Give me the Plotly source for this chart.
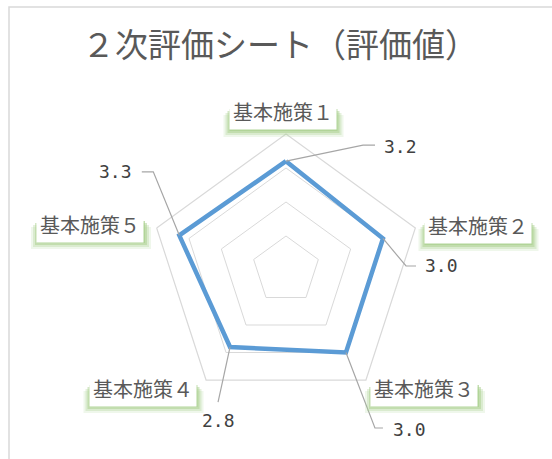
import math
import plotly.graph_objects as go

# ---------------- data ----------------
categories = ["基本施策１", "基本施策２", "基本施策３", "基本施策４", "基本施策５"]
values = [3.2, 3.0, 3.0, 2.8, 3.3]
radial_range = [0, 4]
radial_dtick = 1
title_text = "２次評価シート（評価値）"

# ---------------- geometry / style ----------------
W, H = 552, 459
CX, CY, R = 286, 270, 136          # polar centre and outer radius in px
N = len(categories)

def X(x):
    return x / W

def Y(y):
    return 1 - y / H

def point_px(i, v):
    ang = math.radians(90 - 360.0 / N * i)
    rr = (v - radial_range[0]) / (radial_range[1] - radial_range[0]) * R
    return CX + rr * math.cos(ang), CY - rr * math.sin(ang)

# leader-line elbows and label offsets relative to each data point (px)
leader_offsets = [
    [(77, -16), (89, -16)],
    [(23, 27.5), (33, 27.5)],
    [(29, 75.5), (37, 75.5)],
    [(-12, 55)],
    [(-26, -63.5), (-37.5, -63.5)],
]
value_label_offsets = [(114, -15), (58, 27.5), (64, 77), (-12, 73), (-64, -64)]

# category label centres (px)
cat_label_pos = [(282.5, 112), (477.5, 226), (424, 388), (142.5, 388), (90, 224)]

GRID = "#d9d9d9"
LINE = "#5b9bd5"
CJK = "Noto Sans CJK JP"

fig = go.Figure()
fig.add_trace(go.Scatterpolar(
    r=values + values[:1],
    theta=categories + categories[:1],
    mode="lines",
    line=dict(color=LINE, width=4.5),
    hoverinfo="skip",
    showlegend=False,
))

shapes = []
annotations = []

# outer chart border
shapes.append(dict(type="rect", xref="paper", yref="paper",
                   x0=X(9), x1=X(W + 20), y0=Y(H + 20), y1=Y(7),
                   line=dict(color=GRID, width=1.5), fillcolor="rgba(0,0,0,0)", layer="below"))

# leader lines + value labels
for i, v in enumerate(values):
    px, py = point_px(i, v)
    pts = [(px, py)] + [(px + dx, py + dy) for dx, dy in leader_offsets[i]]
    path = "M " + " L ".join(f"{X(a):.5f},{Y(b):.5f}" for a, b in pts)
    shapes.append(dict(type="path", xref="paper", yref="paper", path=path,
                       line=dict(color="#a6a6a6", width=1.2), layer="above"))
    lx, ly = value_label_offsets[i]
    annotations.append(dict(x=X(px + lx), y=Y(py + ly), xref="paper", yref="paper",
                            text=f"{v:.1f}", showarrow=False, xanchor="center", yanchor="middle",
                            font=dict(family="DejaVu Sans Mono", size=18, color="#404040")))

# category labels with soft green shadow below
for (cx, cy), name in zip(cat_label_pos, categories):
    for grow, op in [(5, 0.18), (3, 0.3), (1, 0.5), (-1, 0.7)]:
        shapes.append(dict(type="rect", xref="paper", yref="paper",
                           x0=X(cx - 54 - grow), x1=X(cx + 56 + grow),
                           y0=Y(cy + 20 + grow), y1=Y(cy - 2 + grow),
                           line=dict(width=0), fillcolor="#a9d08e", opacity=op, layer="above"))
    annotations.append(dict(x=X(cx), y=Y(cy), xref="paper", yref="paper",
                            text=name, showarrow=False, xanchor="center", yanchor="middle",
                            bgcolor="white", borderpad=3,
                            font=dict(family=CJK, size=20, color="#595959")))

fig.update_layout(
    width=W, height=H,
    margin=dict(l=0, r=0, t=0, b=0),
    paper_bgcolor="white",
    showlegend=False,
    title=dict(text=title_text, x=X(280), xanchor="center", y=Y(45), yanchor="middle",
               font=dict(family=CJK, size=33, color="#595959")),
    polar=dict(
        domain=dict(x=[X(CX - R), X(CX + R)], y=[Y(CY + R), Y(CY - R)]),
        bgcolor="white",
        gridshape="linear",
        radialaxis=dict(range=radial_range, dtick=radial_dtick, showticklabels=False,
                        ticks="", showline=False, gridcolor=GRID, gridwidth=1.2),
        angularaxis=dict(rotation=90, direction="clockwise", showticklabels=False,
                         ticks="", showgrid=False, showline=True, linecolor=GRID, linewidth=1.2),
    ),
    shapes=shapes,
    annotations=annotations,
)

fig.write_html("out.html", config={"displayModeBar": False},
               post_script="document.body.style.margin='0';")
